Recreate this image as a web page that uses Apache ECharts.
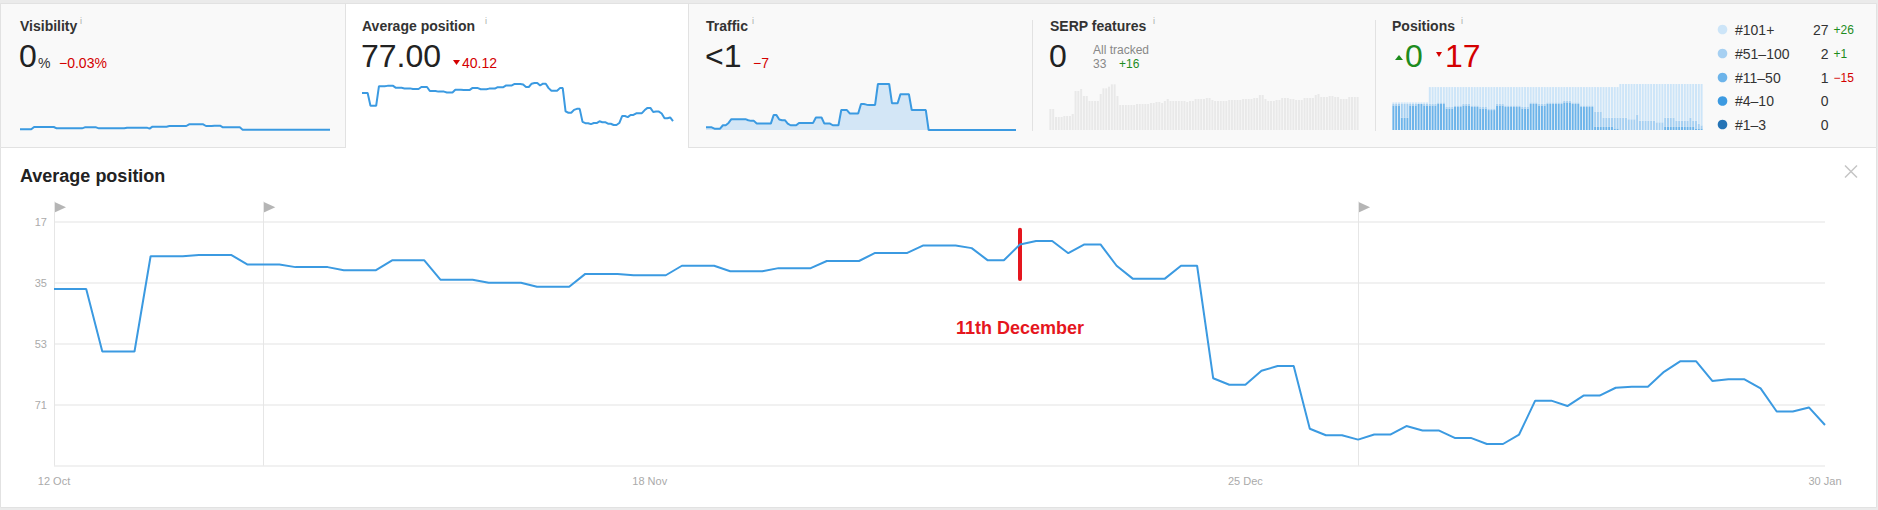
<!DOCTYPE html>
<html>
<head>
<meta charset="utf-8">
<script src="https://cdn.jsdelivr.net/npm/echarts@6/dist/echarts.min.js"></script>
<style>
html,body{margin:0;padding:0;background:#ebebeb;}
#c{width:1878px;height:510px;}
</style>
</head>
<body>
<div id="c"></div>
<script>
// ---------- DATA ----------
const dates = [
 '12 Oct','13 Oct','14 Oct','15 Oct','16 Oct','17 Oct','18 Oct','19 Oct','20 Oct','21 Oct',
 '22 Oct','23 Oct','24 Oct','25 Oct','26 Oct','27 Oct','28 Oct','29 Oct','30 Oct','31 Oct',
 '1 Nov','2 Nov','3 Nov','4 Nov','5 Nov','6 Nov','7 Nov','8 Nov','9 Nov','10 Nov',
 '11 Nov','12 Nov','13 Nov','14 Nov','15 Nov','16 Nov','17 Nov','18 Nov','19 Nov','20 Nov',
 '21 Nov','22 Nov','23 Nov','24 Nov','25 Nov','26 Nov','27 Nov','28 Nov','29 Nov','30 Nov',
 '1 Dec','2 Dec','3 Dec','4 Dec','5 Dec','6 Dec','7 Dec','8 Dec','9 Dec','10 Dec',
 '11 Dec','12 Dec','13 Dec','14 Dec','15 Dec','16 Dec','17 Dec','18 Dec','19 Dec','20 Dec',
 '21 Dec','22 Dec','23 Dec','24 Dec','25 Dec','26 Dec','27 Dec','28 Dec','29 Dec','30 Dec',
 '31 Dec','1 Jan','2 Jan','3 Jan','4 Jan','5 Jan','6 Jan','7 Jan','8 Jan','9 Jan',
 '10 Jan','11 Jan','12 Jan','13 Jan','14 Jan','15 Jan','16 Jan','17 Jan','18 Jan','19 Jan',
 '20 Jan','21 Jan','22 Jan','23 Jan','24 Jan','25 Jan','26 Jan','27 Jan','28 Jan','29 Jan',
 '30 Jan'
];

const avgPosition = [
 36.88,36.88,36.88,55.3,55.3,55.3,27.2,27.2,27.2,26.8,
 26.8,26.8,29.6,29.6,29.6,30.4,30.4,30.4,31.3,31.3,
 31.3,28.4,28.4,28.4,34.1,34.1,34.1,35.0,35.0,35.0,
 36.2,36.2,36.2,32.4,32.4,32.4,32.8,32.8,32.8,30.0,
 30.0,30.0,31.6,31.6,31.6,30.7,30.7,30.7,28.6,28.6,
 28.6,26.2,26.2,26.2,24.0,24.0,24.0,24.8,28.4,28.4,
 23.7,22.7,22.7,26.3,23.7,23.7,30.0,33.8,33.8,33.8,
 30.0,30.0,63.2,65.1,65.1,61.0,59.6,59.6,78.1,80.0,
 80.0,81.3,79.8,79.8,77.3,78.6,78.6,80.8,80.8,82.6,
 82.6,79.8,69.8,69.8,71.4,68.3,68.3,66.0,65.7,65.7,
 61.3,58.2,58.2,64.0,63.5,63.5,66.2,73.0,73.0,71.8,
 77.0
];

const visibility = [
 0.2,0.2,0.2,0.2,0.2,0.9,0.9,0.9,0.9,0.9,
 0.9,0.9,0.9,0.5,0.5,0.5,0.5,0.5,0.5,0.5,
 0.5,0.5,0.5,0.8,0.8,0.8,0.8,0.8,0.5,0.5,
 0.5,0.5,0.5,0.5,0.5,0.5,0.5,0.5,0.7,0.7,
 0.7,0.7,0.7,0.7,0.7,0.7,0.4,1.0,1.0,1.0,
 1.0,1.0,1.0,1.2,1.2,1.2,1.2,1.2,1.2,1.2,
 1.7,1.7,1.7,1.7,1.7,1.7,1.2,1.2,1.2,1.3,
 1.3,1.3,0.8,0.8,0.8,0.8,0.8,0.8,0.8,0.1,
 0.1,0.1,0.1,0.1,0.1,0.1,0.1,0.1,0.1,0.1,
 0.1,0.1,0.1,0.1,0.1,0.1,0.1,0.1,0.1,0.1,
 0.1,0.1,0.1,0.1,0.1,0.1,0.1,0.1,0.1,0.1,
 0.1
];

const traffic = [
 0.8,0.8,0.8,0.4,0.4,0.4,1.4,1.4,2.1,3.2,
 3.2,3.2,3.2,3.2,3.2,2.9,2.7,2.7,1.9,1.9,
 1.9,1.9,1.9,1.9,4.4,4.4,3.1,2.9,2.9,1.9,
 1.4,1.4,1.4,2.1,2.1,2.1,2.1,2.1,2.1,3.7,
 3.7,3.7,1.9,1.9,1.9,1.4,1.4,1.4,5.9,5.9,
 5.9,4.9,4.9,4.9,4.9,7.7,7.7,7.5,7.4,7.4,
 7.4,13.6,13.6,13.6,13.6,13.6,7.9,7.9,7.9,10.6,
 10.6,10.6,10.6,5.9,5.9,5.9,5.9,5.9,5.9,0,
 0,0,0,0,0,0,0,0,0,0,
 0,0,0,0,0,0,0,0,0,0,
 0,0,0,0,0,0,0,0,0,0,
 0
];

const serpFeatures = [
 63,63,39,39,39,42,42,42,48,117,
 117,123,102,102,87,87,87,87,108,125,
 125,130,137,137,102,75,75,75,75,75,
 75,78,78,78,78,78,81,81,84,84,
 81,87,93,87,87,87,87,87,87,84,
 87,87,93,93,93,93,96,96,90,87,
 87,87,87,87,90,90,90,90,90,93,
 93,93,93,96,96,105,105,93,87,87,
 87,90,90,96,96,96,93,93,90,90,
 90,96,96,96,96,105,108,99,99,99,
 102,102,99,99,93,93,93,99,99,99,
 99
];

const pos101plus = [
 1,1,1,1,1,1,1,1,1,1,
 1,1,1,11,11,11,10,10,10,13,
 13,13,12,12,12,11,11,11,12,12,
 12,13,13,13,14,14,14,11,11,11,
 12,12,12,12,12,12,13,13,13,10,
 10,10,11,11,11,10,10,10,10,10,
 10,9,9,9,10,10,10,12,12,12,
 12,12,16,16,16,20,20,20,20,20,
 20,22,22,22,23,23,23,20,24,24,
 24,24,24,24,25,25,25,22,22,22,
 22,24,24,24,24,24,22,24,24,26,
 27
];
const pos51to100 = [
 1,1,1,9,9,9,1,1,1,0,
 0,1,1,1,1,1,1,1,1,1,
 1,1,1,1,1,1,1,1,1,1,
 1,1,1,1,1,1,1,1,1,1,
 1,1,1,1,1,1,1,1,1,1,
 1,1,1,1,1,1,1,1,1,1,
 1,1,1,1,1,1,1,1,1,1,
 1,1,10,10,10,6,6,6,6,7,
 7,8,8,8,7,7,7,10,6,6,
 6,6,6,6,5,5,5,6,6,6,
 6,4,4,4,4,4,6,4,5,3,
 2
];
const pos11to50 = [
 16,16,16,8,8,8,16,16,16,17,
 17,16,16,16,16,16,17,17,17,14,
 14,14,15,15,15,16,16,16,15,15,
 15,14,14,14,13,13,13,16,16,16,
 15,15,15,15,15,15,14,14,14,17,
 17,17,16,16,16,17,17,17,17,17,
 17,18,18,18,17,17,17,15,15,15,
 15,15,2,2,2,2,2,2,2,1,
 1,0,0,0,0,0,0,0,0,0,
 0,0,0,0,0,0,0,2,2,2,
 2,2,2,2,2,2,2,2,1,1,
 1
];
const pos4to10 = [
 0,0,0,0,0,0,0,0,0,0, 0,0,0,0,0,0,0,0,0,0, 0,0,0,0,0,0,0,0,0,0,
 0,0,0,0,0,0,0,0,0,0, 0,0,0,0,0,0,0,0,0,0, 0,0,0,0,0,0,0,0,0,0,
 0,0,0,0,0,0,0,0,0,0, 0,0,0,0,0,0,0,0,0,0, 0,0,0,0,0,0,0,0,0,0,
 0,0,0,0,0,0,0,0,0,0, 0,0,0,0,0,0,0,0,0,0, 0
];
const pos1to3 = [
 0,0,0,0,0,0,0,0,0,0, 0,0,0,0,0,0,0,0,0,0, 0,0,0,0,0,0,0,0,0,0,
 0,0,0,0,0,0,0,0,0,0, 0,0,0,0,0,0,0,0,0,0, 0,0,0,0,0,0,0,0,0,0,
 0,0,0,0,0,0,0,0,0,0, 0,0,0,0,0,0,0,0,0,0, 0,0,0,0,0,0,0,0,0,0,
 0,0,0,0,0,0,0,0,0,0, 0,0,0,0,0,0,0,0,0,0, 0
];

const xLabelDates = ['12 Oct','18 Nov','25 Dec','30 Jan'];
const yTickLabels = [17, 35, 53, 71];
const annotationDates = ['12 Oct','25 Oct','1 Jan'];
const annotationFlagLevel = 0.979;   // position of flag inside the annotation band (0 = bottom, 1 = top)
const highlightDate = '11 Dec';
const highlightText = '11th December';
const highlightRange = [19.4, 33.9];
const highlightLabelValue = 48.4;

const positionGroups = [
 {name:'#101+',   data:pos101plus, color:'#cde5f8'},
 {name:'#51–100', data:pos51to100, color:'#a6d0f2'},
 {name:'#11–50',  data:pos11to50,  color:'#6db4ea'},
 {name:'#4–10',   data:pos4to10,   color:'#3c9ae1'},
 {name:'#1–3',    data:pos1to3,    color:'#2574b6'}
];

// ---------- STYLE ----------
const F = 'Arial, "Liberation Sans", Helvetica, sans-serif';
const BLUE = '#3b9ae1';
const RED = '#d40000';
const GREEN = '#1e8c1e';
const BORDER = '#e2e2e2';

function T(x, y, text, size, fill, weight, align) {
  return {
    type:'text', x:x, y:y, z:20, silent:true,
    style:{text:text, fill:fill, font:(weight||'normal')+' '+size+'px '+F,
      align:align||'left', verticalAlign:'middle',
      textAlign:align||'left', textVerticalAlign:'middle'}
  };
}
function R(x, y, w, h, fill, stroke) {
  return {type:'rect', z:-10, silent:true, shape:{x:x,y:y,width:w,height:h},
    style:{fill:fill, stroke:stroke||null, lineWidth:1}};
}
function L(x1, y1, x2, y2, stroke, w) {
  return {type:'line', z:-9, silent:true, shape:{x1:x1,y1:y1,x2:x2,y2:y2},
    style:{stroke:stroke, lineWidth:w||1}};
}
function P(points, fill) {
  return {type:'polygon', z:20, silent:true, shape:{points:points}, style:{fill:fill}};
}

const last = a => a[a.length-1];
const avgLast = last(avgPosition);
const avgDelta = avgLast - avgPosition[0];

const graphics = [
  R(0.5, 3.5, 1876, 144, '#f9f9f9', BORDER),
  R(0.5, 147.5, 1876, 360, '#ffffff', BORDER),
  R(345.5, 3.5, 343, 145, '#ffffff', null),
  L(0.5, 3.5, 1876.5, 3.5, BORDER),
  L(345.5, 3.5, 345.5, 148, BORDER),
  L(688.5, 3.5, 688.5, 148, BORDER),
  L(1032.5, 20, 1032.5, 131, BORDER),
  L(1375.5, 20, 1375.5, 131, BORDER),
  // close icon
  L(1845, 165.5, 1857, 177.5, '#c4c4c4', 1.5),
  L(1857, 165.5, 1845, 177.5, '#c4c4c4', 1.5),

  // Visibility
  T(20, 26, 'Visibility', 14, '#333', 'bold'),
  T(80, 21, 'i', 9, '#aaa'),
  T(19, 56, '0', 32, '#222'),
  T(38, 62.5, '%', 14, '#333'),
  T(59, 62.5, '−0.03%', 14, RED),

  // Average position
  T(362, 26, 'Average position', 14, '#333', 'bold'),
  T(485, 21, 'i', 9, '#aaa'),
  T(361, 56, avgLast.toFixed(2), 32, '#222'),
  P([[453,60],[460,60],[456.5,65]], RED),
  T(462, 62.5, avgDelta.toFixed(2), 14, RED),

  // Traffic
  T(706, 26, 'Traffic', 14, '#333', 'bold'),
  T(752, 21, 'i', 9, '#aaa'),
  T(705, 56, '<1', 32, '#222'),
  T(753, 62.5, '−7', 14, RED),

  // SERP features
  T(1050, 26, 'SERP features', 14, '#333', 'bold'),
  T(1153, 21, 'i', 9, '#aaa'),
  T(1049, 56, '0', 32, '#222'),
  T(1093, 50, 'All tracked', 12, '#888'),
  T(1093, 63.5, '33', 12, '#888'),
  T(1119, 63.5, '+16', 12, GREEN),

  // Positions
  T(1392, 26, 'Positions', 14, '#333', 'bold'),
  T(1461, 21, 'i', 9, '#aaa'),
  P([[1395,60],[1403,60],[1399,55]], GREEN),
  T(1405, 56, '0', 32, GREEN),
  P([[1436,52],[1442,52],[1439,57]], RED),
  T(1445, 56, '17', 32, RED),

  // Main title
  T(20, 176, 'Average position', 18, '#222', 'bold')
];

const legendY = [29.5, 53.5, 77.5, 101, 124.5];
positionGroups.forEach((g, k) => {
  const y = legendY[k];
  const cur = last(g.data);
  const d = cur - g.data[0];
  graphics.push({type:'circle', z:20, silent:true, shape:{cx:1722.5, cy:y, r:4.8}, style:{fill:g.color}});
  graphics.push(T(1735, y, g.name, 14, '#333'));
  graphics.push(T(1828.5, y, String(cur), 14, '#333', 'normal', 'right'));
  if (d !== 0) {
    graphics.push(T(1833.5, y, (d > 0 ? '+' : '−') + Math.abs(d), 12, d > 0 ? GREEN : RED));
  }
});

// ---------- CHART ----------
const chart = echarts.init(document.getElementById('c'), null, {renderer:'svg', width:1878, height:510});

const hiddenX = (gi, gap) => ({type:'category', gridIndex:gi, data:dates, boundaryGap:gap, show:false});
const hiddenY = (gi, extra) => Object.assign({type:'value', gridIndex:gi, show:false, splitLine:{show:false}}, extra||{});

const option = {
  animation:false,
  backgroundColor:'transparent',
  textStyle:{fontFamily:F},
  graphic:{elements:graphics},
  grid:[
    {left:54, right:53, top:221.7, height:244, containLabel:false},
    {left:20, width:310, top:84, height:46},
    {left:362, width:311, top:83, height:42},
    {left:706, width:310, top:84, height:46},
    {left:1049, width:310, top:84, height:46},
    {left:1392, width:311, top:84, height:46},
    // annotation band: same x extent as main plot, reaching up to the flags
    {left:54, right:53, top:201.7, height:264}
  ],
  xAxis:[
    {type:'category', gridIndex:0, data:dates, boundaryGap:false,
     axisLine:{show:false}, axisTick:{show:false}, splitLine:{show:false},
     axisLabel:{interval:(i) => xLabelDates.includes(dates[i]), color:'#aaaaaa', fontSize:11, margin:10, fontFamily:F}},
    hiddenX(1, false), hiddenX(2, false), hiddenX(3, false), hiddenX(4, true), hiddenX(5, true),
    hiddenX(6, false)
  ],
  yAxis:[
    {type:'value', gridIndex:0, inverse:true, min:17, max:89, interval:18,
     axisLine:{show:false}, axisTick:{show:false},
     axisLabel:{color:'#aaaaaa', fontSize:11, margin:7, fontFamily:F,
       formatter:(v) => yTickLabels.includes(v) ? String(v) : ''},
     splitLine:{show:true, lineStyle:{color:'#f1f1f1', width:2}}},
    hiddenY(1, {min:0, max:13.8}),
    hiddenY(2, {inverse:true, min:(e)=>e.min, max:(e)=>e.max}),
    hiddenY(3, {min:0, max:13.6}),
    hiddenY(4, {min:0, max:138}),
    hiddenY(5, {min:0, max:30}),
    hiddenY(6, {min:0, max:1})
  ],
  series:[
    {
      name:'Annotations', type:'scatter', xAxisIndex:6, yAxisIndex:6, z:1, silent:true,
      data: annotationDates.map(d => [d, annotationFlagLevel]),
      symbol:'path://M0,0L12,5.5L0,11Z', symbolSize:[12,11], symbolOffset:[6,0],
      itemStyle:{color:'#a3a3a3'},
      markLine:{
        silent:true, animation:false, symbol:['none','none'], label:{show:false},
        emphasis:{disabled:true},
        lineStyle:{color:'#e6e6e6', width:1, type:'solid'},
        data: annotationDates.map(d => ({xAxis:d}))
      }
    },
    {
      name:'Average position', type:'line', xAxisIndex:0, yAxisIndex:0, data:avgPosition,
      symbol:'none', z:5, lineStyle:{color:BLUE, width:2}, itemStyle:{color:BLUE},
      markLine:{
        silent:true, animation:false, symbol:['none','none'], label:{show:false},
        emphasis:{disabled:true},
        data: [[
          {coord:[highlightDate, highlightRange[0]], lineStyle:{color:'#e5161e', width:4, type:'solid', cap:'round'}},
          {coord:[highlightDate, highlightRange[1]]}
        ]]
      },
      markPoint:{
        silent:true, animation:false,
        data: [{
          coord:[highlightDate, highlightLabelValue], symbol:'circle', symbolSize:1,
          itemStyle:{color:'rgba(0,0,0,0)'},
          label:{show:true, position:'inside', formatter:highlightText, color:'#e5161e',
            fontSize:18, fontWeight:'bold', fontFamily:F}
        }]
      }
    },
    {type:'line', xAxisIndex:1, yAxisIndex:1, data:visibility, symbol:'none', silent:true,
     lineStyle:{color:BLUE, width:2}},
    {type:'line', xAxisIndex:2, yAxisIndex:2, data:avgPosition, symbol:'none', silent:true,
     lineStyle:{color:BLUE, width:2}},
    {type:'line', xAxisIndex:3, yAxisIndex:3, data:traffic, symbol:'none', silent:true,
     lineStyle:{color:BLUE, width:2}, areaStyle:{color:'#d3e6f6', opacity:1}},
    {type:'bar', xAxisIndex:4, yAxisIndex:4, data:serpFeatures, silent:true,
     barCategoryGap:'28%', itemStyle:{color:'#e9e9e9'}}
  ].concat(positionGroups.slice().reverse().map(g => ({
     type:'bar', name:g.name, xAxisIndex:5, yAxisIndex:5, stack:'pos', data:g.data, silent:true,
     barCategoryGap:'28%', itemStyle:{color:g.color}
  })))
};
chart.setOption(option);
</script>
</body>
</html>
